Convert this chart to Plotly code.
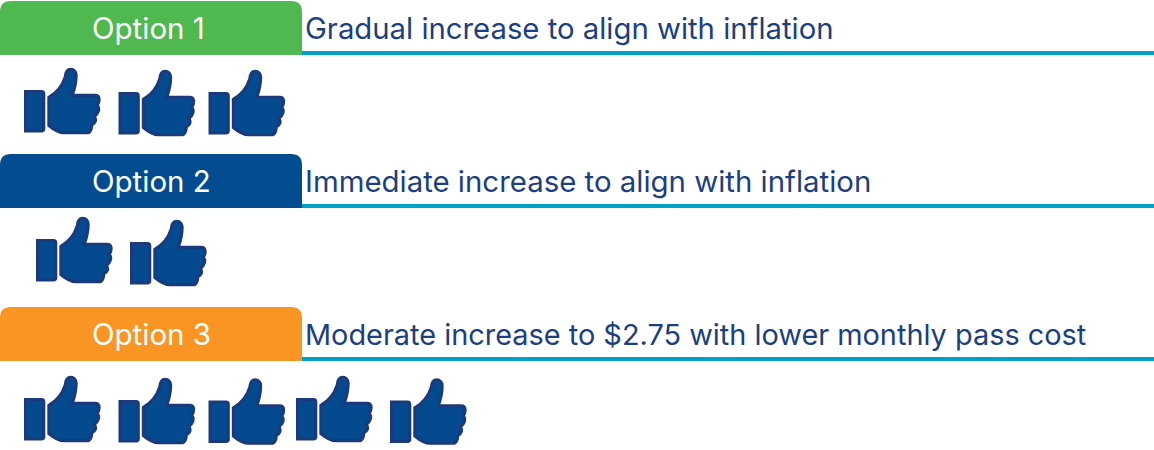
import plotly.graph_objects as go

# --- data ---
option_labels = ["Option 1", "Option 2", "Option 3"]
option_descriptions = [
    "Gradual increase to align with inflation",
    "Immediate increase to align with inflation",
    "Moderate increase to $2.75 with lower monthly pass cost",
]
thumbs_up_counts = [3, 2, 5]

# --- layout / style constants ---
W, H = 1154, 450
FONT = "Inter"
TAB_COLORS = ["#4FB84E", "#034C8F", "#F99522"]
TEAL = "#00A3C7"
NAVY_TEXT = "#1B3F80"
HAND_FILL = "#034A8F"
HAND_LINE = "#1A3A7C"
TAB_TOP = [1, 154, 307]
TAB_BOTTOM = [55, 208, 361]
TAB_RIGHT = 302
RADIUS = 11
DESC_SIZES = [29.3, 29.4, 28.9]
THUMB_SLOTS = [
    [(24, 68), (118.5, 70), (208.5, 70)],
    [(36, 217), (130, 220)],
    [(24, 376), (118.5, 378), (208.5, 378.5), (296, 376), (390, 378.5)],
]

CUFF = [("M", 1.5, 23.5), ("L", 17.5, 23.5), ("C", 19, 23.5, 19.8, 24.5, 19.8, 25.7),
        ("L", 19.8, 61), ("C", 19.8, 62, 19, 62.9, 17.5, 62.9), ("L", 1.5, 62.9), ("Z",)]
HAND = [("M", 24.8, 29.3), ("C", 32, 25.3, 38, 19, 41.2, 9), ("C", 41.7, 3.5, 44, 1.3, 46.7, 1.3),
        ("C", 50, 1.3, 52.2, 3.7, 52.2, 7), ("C", 52.2, 14, 51, 20, 48.3, 27.3), ("L", 71, 27.3),
        ("C", 74, 27.3, 75.2, 29.2, 75.2, 31.5), ("C", 75.2, 34, 74.3, 36, 73.3, 37.5),
        ("C", 74.8, 39, 74.8, 42, 74.3, 43.5), ("C", 73.8, 45.5, 72.3, 47, 70.3, 48.5),
        ("C", 71.8, 50, 71.8, 52.5, 71.3, 53.5), ("C", 70.8, 55, 69.3, 56, 67.8, 57),
        ("C", 67.8, 60, 66.8, 64.8, 63, 64.8), ("L", 40, 64.8), ("C", 35, 64.8, 29, 61, 24.8, 57.5), ("Z",)]


def place(template, ox, oy):
    parts = []
    for seg in template:
        nums = seg[1:]
        coords = [nums[i] + (ox if i % 2 == 0 else oy) for i in range(len(nums))]
        parts.append(seg[0] + " " + " ".join(f"{c:.2f}" for c in coords))
    return " ".join(parts)


shapes, annotations = [], []
for i, label in enumerate(option_labels):
    t, b, r = TAB_TOP[i], TAB_BOTTOM[i], RADIUS
    # teal rule first, tab on top
    shapes.append(dict(type="rect", x0=TAB_RIGHT, x1=W, y0=b - 4, y1=b,
                       fillcolor=TEAL, line_width=0, layer="above"))
    shapes.append(dict(
        type="path",
        path=(f"M 0 {b} L 0 {t + r} Q 0 {t} {r} {t} L {TAB_RIGHT - r} {t} "
              f"Q {TAB_RIGHT} {t} {TAB_RIGHT} {t + r} L {TAB_RIGHT} {b} Z"),
        fillcolor=TAB_COLORS[i], line_width=0, layer="above"))
    annotations.append(dict(x=89.5, y=(t + b) / 2, text=label, showarrow=False,
                            xanchor="left", yanchor="middle",
                            font=dict(family=FONT, size=29.5, color="white")))
    annotations.append(dict(x=303, y=(t + b) / 2, text=option_descriptions[i], showarrow=False,
                            xanchor="left", yanchor="middle",
                            font=dict(family=FONT, size=DESC_SIZES[i], color=NAVY_TEXT)))
    for n in range(thumbs_up_counts[i]):
        ox, oy = THUMB_SLOTS[i][n]
        for tmpl in (CUFF, HAND):
            shapes.append(dict(type="path", path=place(tmpl, ox, oy), fillcolor=HAND_FILL,
                               line=dict(color=HAND_LINE, width=3), layer="above"))

fig = go.Figure()
fig.update_layout(
    width=W, height=H, margin=dict(l=0, r=0, t=0, b=0),
    paper_bgcolor="white", plot_bgcolor="white", showlegend=False,
    xaxis=dict(range=[0, W], visible=False, fixedrange=True),
    yaxis=dict(range=[H, 0], visible=False, fixedrange=True),
    shapes=shapes, annotations=annotations,
)
fig.write_html("out.html", config=dict(displayModeBar=False),
               post_script="document.body.style.margin='0';document.documentElement.style.overflow='hidden';")
